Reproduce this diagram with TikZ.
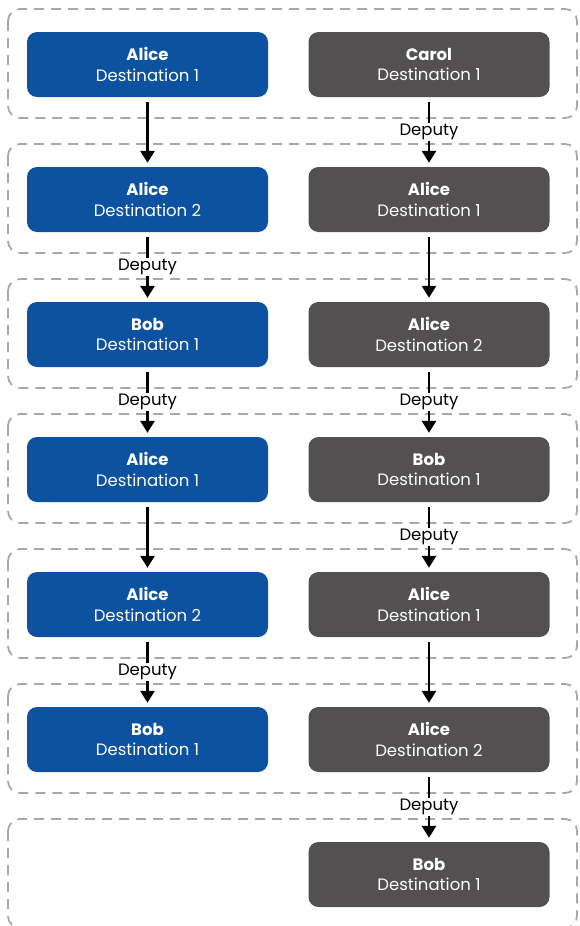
\documentclass[tikz,border=0pt]{standalone}
\usepackage{fontspec}
\setmainfont{Poppins}
\usetikzlibrary{arrows.meta}
\definecolor{destblue}{RGB}{12,82,160}
\definecolor{destgray}{RGB}{82,80,80}
\definecolor{framegray}{RGB}{168,168,168}
\tikzset{
  dest/.style={rounded corners=10pt, minimum width=241pt, minimum height=65pt,
    inner sep=0pt, align=center, text=white, font=\fontsize{16.5}{20.5}\selectfont},
  leftdest/.style={dest, fill=destblue},
  rightdest/.style={dest, fill=destgray},
  frame/.style={draw=framegray, line width=1.8pt, rounded corners=12pt,
    dash pattern=on 10pt off 7pt},
  arr/.style={-{Triangle[length=12pt,width=14pt]}, line width=2.8pt,
    shorten <=5pt, shorten >=4pt},
  deputy/.style={fill=white, inner sep=1pt, font=\fontsize{16.5}{18}\selectfont}
}
\begin{document}
\begin{tikzpicture}[x=1pt,y=-1pt]
\useasboundingbox (0,0) rectangle (579,926);
% groups
\foreach \i in {0,...,6}{
  \draw[frame] (8,{9+135*\i}) rectangle (577,{118+135*\i});
}
% left column
\foreach \i/\who/\d in {1/Alice/1,2/Alice/2,3/Bob/1,4/Alice/1,5/Alice/2,6/Bob/1}{
  \node[leftdest] (l\i) at (147.5,{64.5+135*(\i-1)}) {\textbf{\who}\\Destination \d};
}
% right column
\foreach \i/\who/\d in {1/Carol/1,2/Alice/1,3/Alice/2,4/Bob/1,5/Alice/1,6/Alice/2,7/Bob/1}{
  \node[rightdest] (r\i) at (429,{64.5+135*(\i-1)}) {\textbf{\who}\\Destination \d};
}
% plain handovers
\foreach \a/\b in {1/2,4/5}{
  \draw[arr] (l\a) -- (l\b);
}
\foreach \a/\b in {2/3,5/6}{
  \draw[arr] (r\a) -- (r\b);
}
% deputy handovers
\foreach \a/\b in {2/3,3/4,5/6}{
  \draw[arr] (l\a) -- node[deputy] {Deputy} (l\b);
}
\foreach \a/\b in {1/2,3/4,4/5,6/7}{
  \draw[arr] (r\a) -- node[deputy] {Deputy} (r\b);
}
\end{tikzpicture}
\end{document}
